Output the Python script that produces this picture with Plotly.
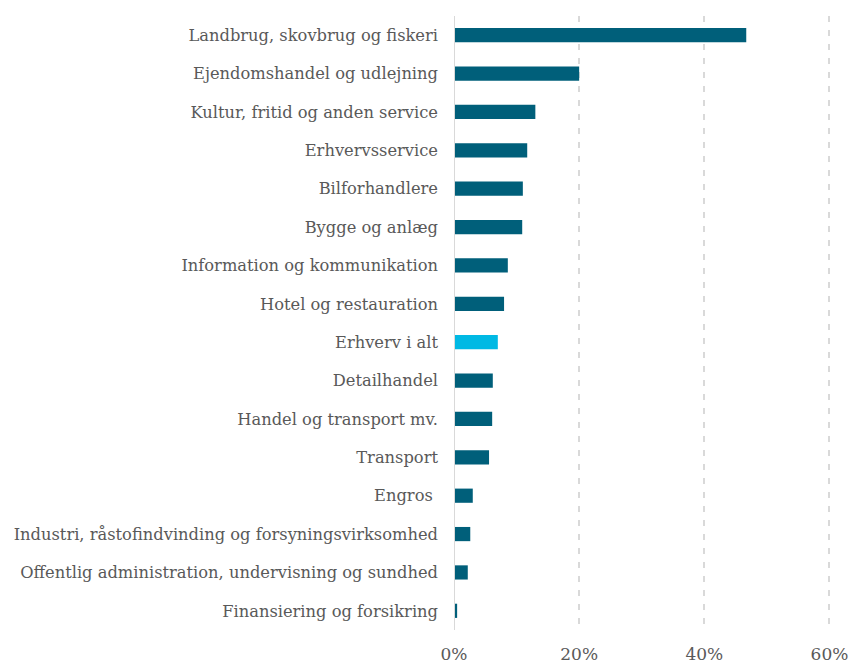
import plotly.graph_objects as go

categories = [
    "Landbrug, skovbrug og fiskeri",
    "Ejendomshandel og udlejning",
    "Kultur, fritid og anden service",
    "Erhvervsservice",
    "Bilforhandlere",
    "Bygge og anlæg",
    "Information og kommunikation",
    "Hotel og restauration",
    "Erhverv i alt",
    "Detailhandel",
    "Handel og transport mv.",
    "Transport",
    "Engros ",
    "Industri, råstofindvinding og forsyningsvirksomhed",
    "Offentlig administration, undervisning og sundhed",
    "Finansiering og forsikring",
]
values = [0.467, 0.200, 0.130, 0.117, 0.110, 0.109, 0.086, 0.080, 0.070,
          0.062, 0.061, 0.056, 0.030, 0.026, 0.022, 0.005]
highlight = "Erhverv i alt"

colors = ["#00B9E4" if c == highlight else "#005F7A" for c in categories]

fig = go.Figure(go.Bar(
    x=values, y=categories, orientation="h",
    marker=dict(color=colors, line=dict(width=0)),
    width=0.37,
))

font_family = "DejaVu Serif, Liberation Serif, serif"
fig.update_layout(
    width=852, height=664,
    margin=dict(l=454, r=10, t=16, b=34),
    plot_bgcolor="white", paper_bgcolor="white",
    showlegend=False,
    font=dict(family=font_family, color="#595959", size=16),
)
fig.update_xaxes(
    range=[0, 0.62], tickvals=[0, 0.2, 0.4, 0.6], tickformat=".0%",
    showgrid=True, gridcolor="#d9d9d9", gridwidth=2, griddash="6px,8px",
    zeroline=False, showline=False, ticks="", automargin=False,
    tickfont=dict(size=17, color="#595959"), ticklabelstandoff=12,
)
fig.update_yaxes(
    categoryorder="array", categoryarray=categories[::-1],
    range=[-0.5, 15.5], showgrid=False, zeroline=False,
    ticks="", ticklabelstandoff=15, automargin=False,
    tickfont=dict(size=16.3, color="#595959"),
)
fig.add_shape(type="line", xref="x", yref="paper", x0=0, x1=0, y0=0, y1=1,
              line=dict(color="#d9d9d9", width=2))

fig.write_html("out.html", config={"displayModeBar": False})

with open("out.html", encoding="utf-8") as f:
    html = f.read()
html = html.replace("<body>", '<body style="margin:0;overflow:hidden">', 1)
with open("out.html", "w", encoding="utf-8") as f:
    f.write(html)
